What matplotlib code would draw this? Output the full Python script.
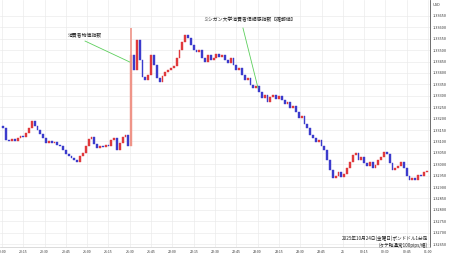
import numpy as np
import matplotlib.pyplot as plt

plt.rcParams['font.family'] = ['Noto Sans CJK JP', 'DejaVu Sans']

# GBP/USD, 2-minute bars, 2025-10-24 20:00 -> 10-25 01:00 (JST)
first_open = 1.33168
closes = [
    1.33159, 1.33106, 1.33102, 1.33111, 1.33102, 1.33115, 1.33124, 1.33119, 1.33137, 1.33159,
    1.33189, 1.33168, 1.33150, 1.33132, 1.33115, 1.33093, 1.33102, 1.33093, 1.33097, 1.33084,
    1.33080, 1.33062, 1.33045, 1.33036, 1.33027, 1.33018, 1.33010, 1.33036, 1.33049, 1.33080,
    1.33111, 1.33119, 1.33089, 1.33071, 1.33080, 1.33075, 1.33084, 1.33080, 1.33106, 1.33115,
    1.33062, 1.33093, 1.33119, 1.33128, 1.33080, 1.33479, 1.33413, 1.33545, 1.33457, 1.33382,
    1.33369, 1.33391, 1.33479, 1.33435, 1.33378, 1.33361, 1.33387, 1.33404, 1.33413, 1.33422,
    1.33431, 1.33466, 1.33501, 1.33536, 1.33567, 1.33554, 1.33523, 1.33501, 1.33492, 1.33501,
    1.33466, 1.33448, 1.33479, 1.33457, 1.33466, 1.33483, 1.33470, 1.33479, 1.33457, 1.33444,
    1.33466, 1.33435, 1.33413, 1.33422, 1.33391, 1.33369, 1.33378, 1.33347, 1.33334, 1.33343,
    1.33317, 1.33290, 1.33303, 1.33273, 1.33295, 1.33303, 1.33286, 1.33299, 1.33282, 1.33264,
    1.33273, 1.33246, 1.33255, 1.33229, 1.33203, 1.33211, 1.33176, 1.33159, 1.33128, 1.33115,
    1.33097, 1.33106, 1.33080, 1.33062, 1.33018, 1.32975, 1.32939, 1.32948, 1.32966, 1.32944,
    1.32957, 1.32983, 1.33010, 1.33040, 1.33049, 1.33018, 1.33032, 1.33005, 1.32992, 1.33010,
    1.32983, 1.32996, 1.33018, 1.33032, 1.33053, 1.33045, 1.33005, 1.32975, 1.32983, 1.32992,
    1.33010, 1.32983, 1.32948, 1.32931, 1.32939, 1.32931, 1.32953, 1.32948, 1.32966, 1.32970,
]
spike_index = 45          # 21:30 US CPI bar
spike_high = 1.33597

time_ticks = list(range(0, 301, 15))
time_labels = ['20:00', '20:15', '20:30', '20:45', '21:00', '21:15', '21:30', '21:45',
               '22:00', '22:15', '22:30', '22:45', '23:00', '23:15', '23:30', '23:45',
               '25', '00:15', '00:30', '00:45', '01:00']
price_ticks = [1.33650, 1.33600, 1.33550, 1.33500, 1.33450, 1.33400, 1.33350,
               1.33300, 1.33250, 1.33200, 1.33150, 1.33100, 1.33050, 1.33000,
               1.32950, 1.32900, 1.32850, 1.32800, 1.32750, 1.32700, 1.32650]

opens = [first_open] + closes[:-1]
t = np.arange(len(closes)) * 2 + 1
up = '#e0393c'
down = '#3b3bcc'
spike_col = '#ef9488'
cols = [up if c >= o else down for o, c in zip(opens, closes)]
cols[spike_index] = spike_col

fig = plt.figure(figsize=(4.5, 2.58), dpi=100)
ax = fig.add_axes([0, 1 - 247 / 258, 430 / 450, 247 / 258])

ax.grid(True, color='#ebebeb', linewidth=0.5)
ax.set_axisbelow(True)

heights = [c - o for o, c in zip(opens, closes)]
ax.bar(t, heights, bottom=opens, width=1.3, color=cols, edgecolor=cols, linewidth=0.3, zorder=3)
ax.vlines(t[spike_index], max(opens[spike_index], closes[spike_index]), spike_high,
          color=spike_col, linewidth=1.2, zorder=3)

# event notes
green = '#5ccf5c'
ax.text(58.5, 1.33562, '消費者物価指数', fontsize=3.5, ha='center', va='center', color='#222222')
ax.plot([58.5, 90], [1.33540, 1.33448], color=green, linewidth=0.6, zorder=4)
ax.text(174.6, 1.33632, 'ミシガン大学消費者信頼感指数【確報値】', fontsize=3.5,
        ha='center', va='center', color='#222222')
ax.plot([169.7, 180.3], [1.33597, 1.33334], color=green, linewidth=0.6, zorder=4)

ax.text(0.995, 0.036, '2025年10月24日(金曜日)ポンドドル1分足', fontsize=3.3,
        ha='right', va='center', transform=ax.transAxes, color='#222222')
ax.text(0.995, 0.008, '(タテ軸通常100pips/幅)', fontsize=3.3,
        ha='right', va='center', transform=ax.transAxes, color='#222222')

ax.set_xlim(-1.4, 301.4)
ax.set_ylim(1.32637, 1.33720)
ax.set_xticks(time_ticks)
ax.set_xticklabels(time_labels)
ax.set_yticks(price_ticks)
ax.set_yticklabels([f'{p:.5f}' for p in price_ticks])
ax.yaxis.tick_right()
ax.tick_params(axis='x', length=0, pad=2.3, labelsize=2.5, labelcolor='#333333')
ax.tick_params(axis='y', length=0, pad=2, labelsize=2.8, labelcolor='#333333')

for s in ['top', 'left']:
    ax.spines[s].set_visible(False)
ax.spines['right'].set_color('#555555')
ax.spines['right'].set_linewidth(0.6)
ax.spines['bottom'].set_color('#cccccc')
ax.spines['bottom'].set_linewidth(0.5)

fig.text(433 / 450, 1 - 5 / 258, 'USD', fontsize=2.8, ha='left', va='center', color='#333333')

fig.savefig('out.png', dpi=100)
